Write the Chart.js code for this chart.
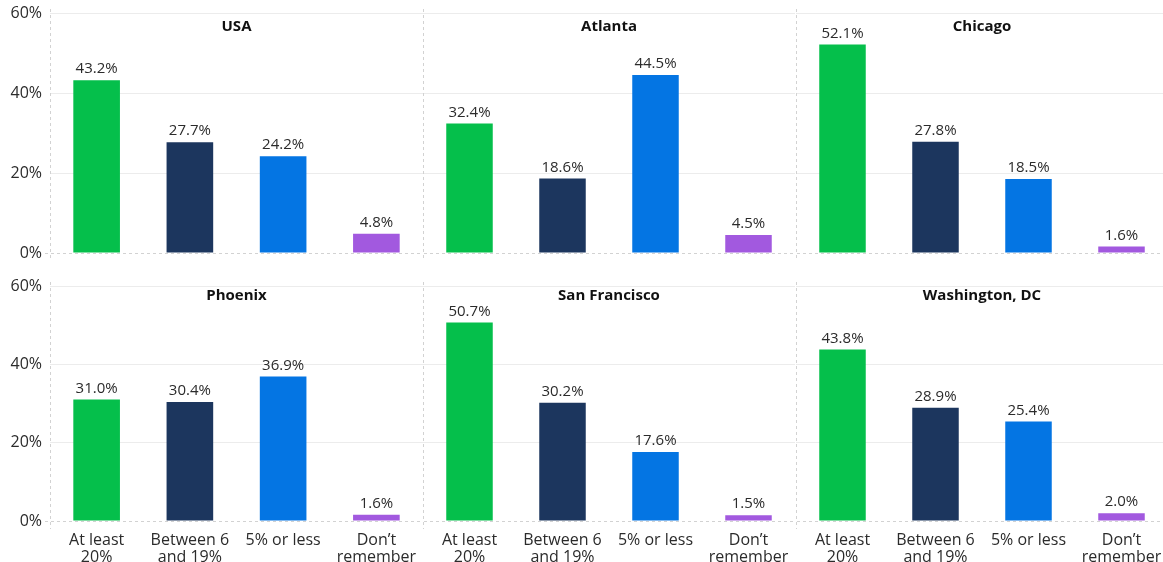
<!DOCTYPE html>
<html><head><meta charset="utf-8">
<script src="https://cdn.jsdelivr.net/npm/chart.js@4.4.1/dist/chart.umd.min.js"></script>
<style>
html,body{margin:0;padding:0;background:#fff;width:1163px;height:562px;overflow:hidden;}
#wrap{position:relative;width:1163px;height:562px;overflow:hidden;}
#wrap canvas{position:absolute;}
</style></head><body><div id="wrap"></div>
<script>
const categories = [["At least","20%"],["Between 6","and 19%"],"5% or less",["Don’t","remember"]];
const panelTitles = ["USA","Atlanta","Chicago","Phoenix","San Francisco","Washington, DC"];
const usaValues = [43.2,27.7,24.2,4.8];
const atlantaValues = [32.4,18.6,44.5,4.5];
const chicagoValues = [52.1,27.8,18.5,1.6];
const phoenixValues = [31.0,30.4,36.9,1.6];
const sanFranciscoValues = [50.7,30.2,17.6,1.5];
const washingtonValues = [43.8,28.9,25.4,2.0];
const yTickValues = [0,20,40,60];
const barColors = ["#05bf4b","#1c365e","#0475e3","#a259df"];

const panelValues = [usaValues, atlantaValues, chicagoValues, phoenixValues, sanFranciscoValues, washingtonValues];
const FONT = "'Open Sans', sans-serif";

const decorPlugin = {
  id: 'decor',
  afterDatasetsDraw(chart, args, opts) {
    const ctx = chart.ctx, a = chart.chartArea, y = chart.scales.y;
    ctx.save();
    ctx.strokeStyle = '#d2d2d2'; ctx.lineWidth = 1; ctx.setLineDash([3,3]);
    ctx.beginPath(); ctx.moveTo(Math.round(a.left)+0.5, a.top - 4); ctx.lineTo(Math.round(a.left)+0.5, a.bottom + 8); ctx.stroke();
    const y0 = Math.round(y.getPixelForValue(0)) + 0.5;
    ctx.beginPath(); ctx.moveTo(a.left - 5, y0); ctx.lineTo(a.right, y0); ctx.stroke();
    ctx.setLineDash([]);
    const meta = chart.getDatasetMeta(0);
    const data = chart.data.datasets[0].data;
    ctx.fillStyle = '#2b2b2b'; ctx.font = '15px ' + FONT; ctx.textAlign = 'center'; ctx.textBaseline = 'middle';
    meta.data.forEach((bar, i) => { ctx.fillText(data[i].toFixed(1) + '%', bar.x, bar.y - 11); });
    ctx.fillStyle = '#111'; ctx.font = 'bold 15px ' + FONT;
    ctx.fillText(opts.title, (a.left + a.right) / 2, a.top + opts.titleOffset);
    ctx.restore();
  }
};

const wrap = document.getElementById('wrap');
const colX = [0, 423, 796];
const colW = [423, 372, 372];
const colYAxisW = [50, 0, 0];

panelValues.forEach((vals, idx) => {
  const row = Math.floor(idx / 3), col = idx % 3;
  const top = row === 0 ? 0 : 273;
  const h = row === 0 ? 265 : 289;
  const cv = document.createElement('canvas');
  cv.width = colW[col]; cv.height = h;
  cv.style.left = colX[col] + 'px'; cv.style.top = top + 'px';
  cv.style.width = colW[col] + 'px'; cv.style.height = h + 'px';
  wrap.appendChild(cv);
  new Chart(cv, {
    type: 'bar',
    data: { labels: categories, datasets: [{ data: vals, backgroundColor: barColors, barPercentage: 0.5, categoryPercentage: 1 }] },
    plugins: [decorPlugin],
    options: {
      responsive: false, animation: false, devicePixelRatio: 1,
      layout: { padding: { top: 13, bottom: row === 0 ? 12 : 0, left: 0, right: 0 } },
      plugins: { legend: { display: false }, tooltip: { enabled: false }, title: { display: false },
        decor: { title: panelTitles[idx], titleOffset: row === 0 ? 14 : 10 } },
      scales: {
        x: {
          display: row === 1,
          grid: { display: false }, border: { display: false },
          ticks: { color: '#2b2b2b', font: { family: FONT, size: 16, lineHeight: 1.07 }, padding: 3, maxRotation: 0, autoSkip: false },
          afterFit: s => { s.height = row === 1 ? 41 : 0; }
        },
        y: {
          min: 0, max: 60,
          afterBuildTicks: s => { s.ticks = yTickValues.map(v => ({ value: v })); },
          grid: { color: c => (c.tick && c.tick.value === 0) ? 'rgba(0,0,0,0)' : '#ececec', drawTicks: false, lineWidth: 1 },
          border: { display: false },
          ticks: { display: col === 0, padding: 8, color: '#2b2b2b', font: { family: FONT, size: 16 }, callback: v => v + '%' },
          afterFit: s => { s.width = colYAxisW[col]; s.paddingTop = 0; s.paddingBottom = 0; }
        }
      }
    }
  });
});
</script></body></html>
